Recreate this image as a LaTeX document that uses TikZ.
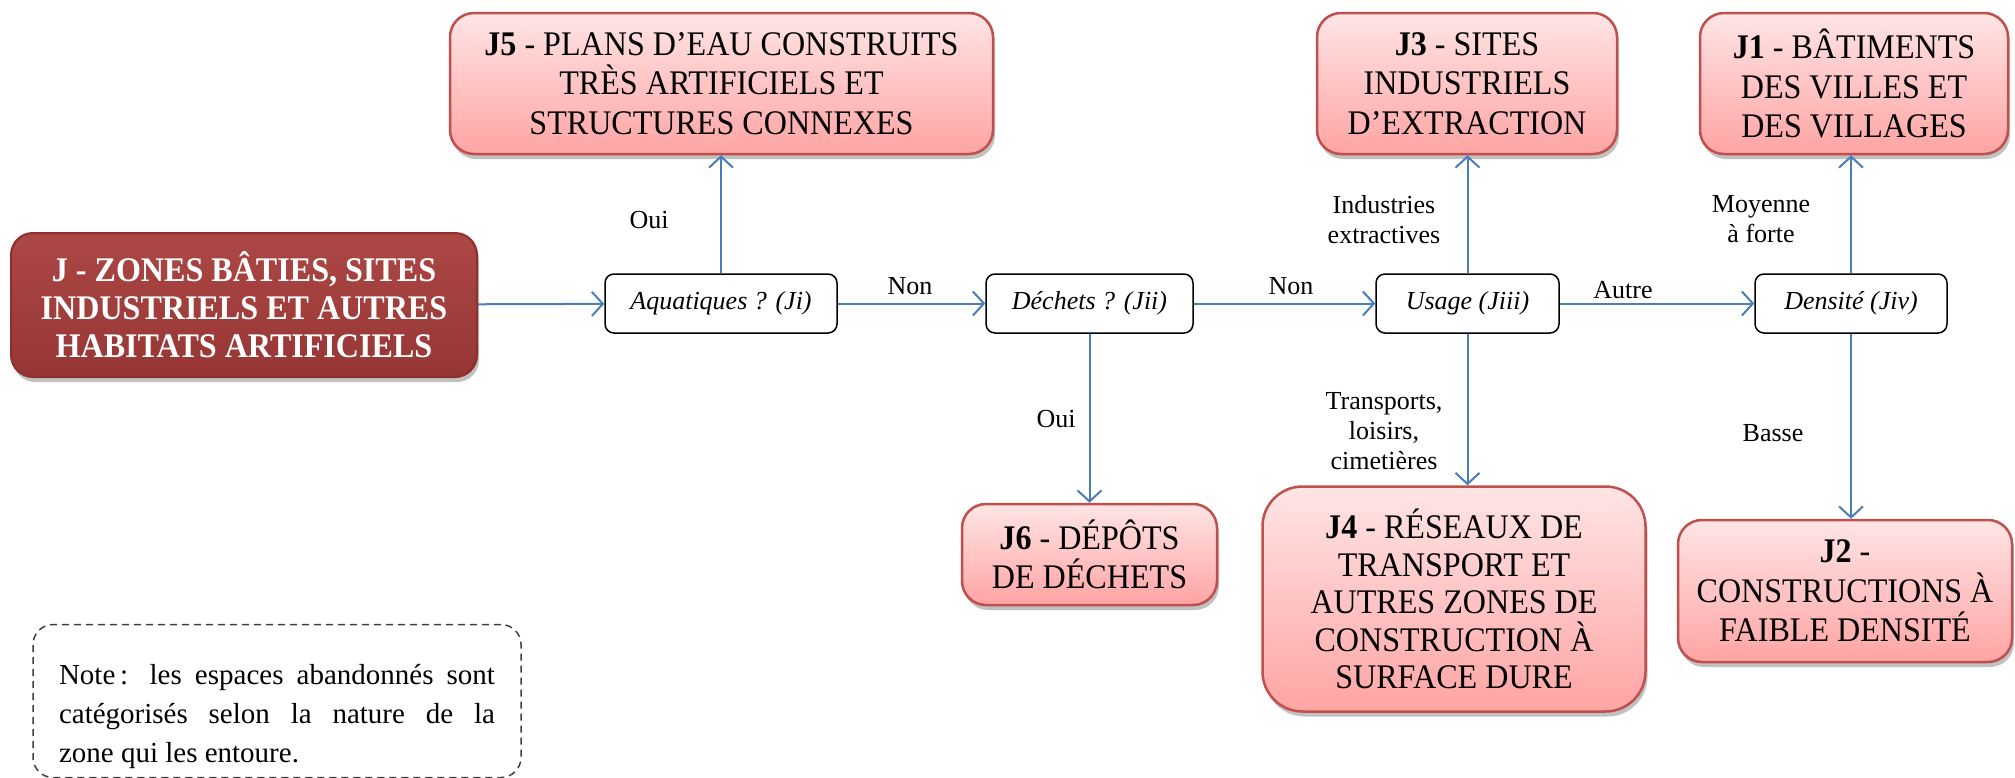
\documentclass[tikz,border=0pt]{standalone}
\usepackage{fontspec}
\setmainfont{Liberation Serif}
\newfontfamily\boxfont[FakeStretch=0.93]{Liberation Serif}
\usetikzlibrary{arrows.meta,shadows}

\definecolor{flowblue}{HTML}{4A7EBB}
\definecolor{leafedge}{HTML}{C0504D}
\definecolor{leaftop}{HTML}{FFE5E5}
\definecolor{leafbot}{HTML}{FFA4A4}
\definecolor{rootedge}{HTML}{8C2F2D}
\definecolor{roottop}{HTML}{AC4846}
\definecolor{rootbot}{HTML}{963634}

\begin{document}
\begin{tikzpicture}[x=1pt,y=-1pt,
  boxshadow/.style={drop shadow={shadow xshift=2pt,shadow yshift=-5pt,opacity=0.35,fill=black!70}},
  leaf/.style={draw=leafedge,line width=2.5pt,rounded corners=24pt,
    top color=leaftop,bottom color=leafbot,boxshadow,
    align=center,inner sep=0pt,font=\boxfont\fontsize{34.5}{39.5}\selectfont},
  root/.style={draw=rootedge,line width=2pt,rounded corners=22pt,
    top color=roottop,bottom color=rootbot,boxshadow,
    align=center,inner sep=0pt,text=white,
    font=\boxfont\fontsize{34.5}{38}\selectfont\bfseries},
  question/.style={draw=black,line width=1.5pt,rounded corners=9pt,fill=white,
    inner sep=0pt,font=\fontsize{26}{30}\selectfont\itshape,minimum height=59pt},
  branch/.style={align=center,inner sep=0pt,font=\fontsize{26}{30}\selectfont},
  flow/.style={draw=flowblue,line width=2pt,
    -{Straight Barb[length=11pt,width=24pt,line width=2pt]}},
]
\useasboundingbox (0,0) rectangle (2015,777);

% root of the key
\node[root,minimum width=466pt,minimum height=144pt] (J) at (244,305)
  {J - ZONES BÂTIES, SITES\\INDUSTRIELS ET AUTRES\\HABITATS ARTIFICIELS};

% questions
\node[question,minimum width=232pt] (q1) at (721,303.5) {Aquatiques ? (Ji)};
\node[question,minimum width=207pt] (q2) at (1089.5,303.5) {Déchets ? (Jii)};
\node[question,minimum width=183pt] (q3) at (1467.5,303.5) {Usage (Jiii)};
\node[question,minimum width=192pt] (q4) at (1851,303.5) {Densité (Jiv)};

% habitat classes
\node[leaf,minimum width=543pt,minimum height=141pt] (J5) at (721.5,83.5)
  {\textbf{J5} - PLANS D’EAU CONSTRUITS\\TRÈS ARTIFICIELS ET\\STRUCTURES CONNEXES};
\node[leaf,minimum width=300pt,minimum height=141pt] (J3) at (1467,83.5)
  {\textbf{J3} - SITES\\INDUSTRIELS\\D’EXTRACTION};
\node[leaf,minimum width=308pt,minimum height=141pt] (J1) at (1854,83.5)
  {\textbf{J1} - BÂTIMENTS\\DES VILLES ET\\DES VILLAGES};
\node[leaf,minimum width=255pt,minimum height=101pt] (J6) at (1089.5,554.5)
  {\textbf{J6} - DÉPÔTS\\DE DÉCHETS};
\node[leaf,minimum width=383pt,minimum height=225pt,rounded corners=40pt,
  font=\boxfont\fontsize{34.5}{37.5}\selectfont] (J4) at (1454,599)
  {\textbf{J4} - RÉSEAUX DE\\TRANSPORT ET\\AUTRES ZONES DE\\CONSTRUCTION À\\SURFACE DURE};
\node[leaf,minimum width=334pt,minimum height=142pt] (J2) at (1845,591)
  {\textbf{J2} -\\CONSTRUCTIONS À\\FAIBLE DENSITÉ};

% connectors
\draw[flow] (J) -- (q1);
\draw[flow] (q1) -- (q2);
\draw[flow] (q2) -- (q3);
\draw[flow] (q3) -- (q4);
\draw[flow] (q1.north) -- (q1.north |- J5.south);
\draw[flow] (q2.south) -- (q2.south |- J6.north);
\draw[flow] (q3.north) -- (q3.north |- J3.south);
\draw[flow] (q3.south) -- (q3.south |- J4.north);
\draw[flow] (q4.north) -- (q4.north |- J1.south);
\draw[flow] (q4.south) -- (q4.south |- J2.north);

% branch labels
\node[branch] (l1) at (649,220) {Oui};
\node[branch] (l2) at (910,286) {Non};
\node[branch] (l3) at (1056,419) {Oui};
\node[branch] (l4) at (1291,286) {Non};
\node[branch] (l5) at (1384,220) {Industries\\extractives};
\node[branch] (l6) at (1384,431) {Transports,\\loisirs,\\cimetières};
\node[branch] (l7) at (1623,290) {Autre};
\node[branch] (l8) at (1761,219) {Moyenne\\à forte};
\node[branch] (l9) at (1773,433) {Basse};

% note
\node[draw=black!75,line width=1.5pt,dash pattern=on 7pt off 5pt,rounded corners=20pt,
  minimum width=488pt,minimum height=153pt,inner sep=0pt] (notebox) at (277,701) {};
\node[text width=436pt,align=justify,inner sep=0pt,
  font=\fontsize{29}{39}\selectfont] (note) at (277,716)
  {Note\,: les espaces abandonnés sont\linebreak catégorisés selon la nature de la\linebreak zone qui les entoure.};
\end{tikzpicture}
\end{document}
